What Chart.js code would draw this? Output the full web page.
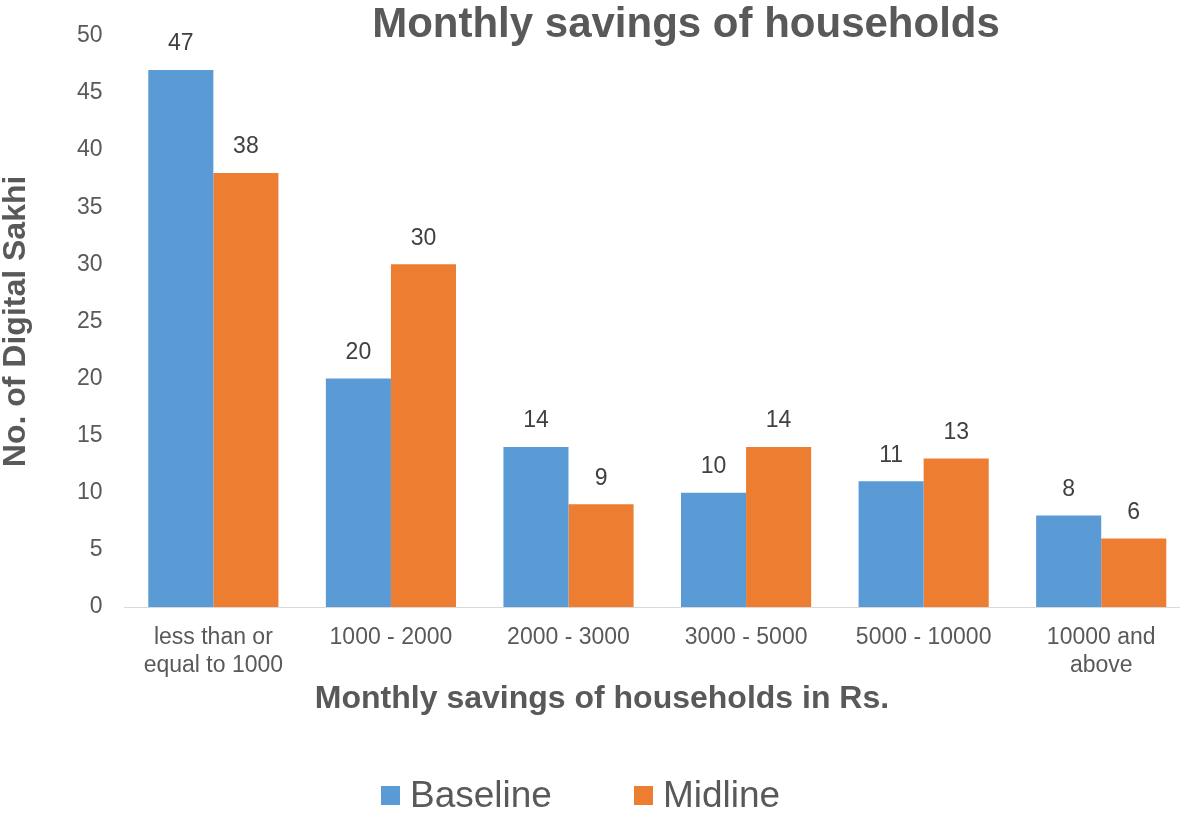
<!DOCTYPE html>
<html>
<head>
<meta charset="utf-8">
<script src="https://cdn.jsdelivr.net/npm/chart.js@4.4.0/dist/chart.umd.min.js"></script>
<style>
  html, body { margin: 0; padding: 0; background: #fff; overflow: hidden; width: 1180px; height: 813px; }
  #wrap { position: absolute; left: 0; top: 0; width: 1190px; height: 813px; }
  #legend { position: absolute; left: 381px; top: 775px; display: flex; align-items: center;
            font: 37px "Liberation Sans", Arial, sans-serif; color: #595959; line-height: 40px; }
  .item { display: flex; align-items: center; margin-right: 82px; }
  .box { width: 19px; height: 19px; margin-right: 10px; }
</style>
</head>
<body>
<div id="wrap"><canvas id="chart" width="1190" height="813"></canvas></div>
<div id="legend"></div>
<script>
const TITLE = "Monthly savings of households";
const X_TITLE = "Monthly savings of households in Rs.";
const Y_TITLE = "No. of Digital Sakhi";
const FONT = '"Liberation Sans", Arial, sans-serif';
const TEXT_GREY = '#595959';

const categories = [
    ['less than or', 'equal to 1000'],
    '1000 - 2000',
    '2000 - 3000',
    '3000 - 5000',
    '5000 - 10000',
    ['10000 and', 'above']
];
const baseline = [47, 20, 14, 10, 11, 8];
const midline  = [38, 30, 9, 14, 13, 6];

const seriesNames  = ['Baseline', 'Midline'];
const seriesColors = ['#5B9BD5', '#ED7D31'];

// value labels above each bar + chart title + x axis title
const textPlugin = {
    id: 'texts',
    afterDatasetsDraw: chart => {
        const ctx = chart.ctx;
        ctx.save();
        ctx.font = `23px ${FONT}`;
        ctx.fillStyle = '#404040';
        ctx.textAlign = 'center';
        ctx.textBaseline = 'middle';
        chart.data.datasets.forEach((ds, i) => {
            chart.getDatasetMeta(i).data.forEach((bar, j) => {
                ctx.fillText(String(ds.data[j]), bar.x, bar.y - 26);
            });
        });

        ctx.fillStyle = TEXT_GREY;
        ctx.textBaseline = 'alphabetic';
        ctx.font = `bold 42px ${FONT}`;
        ctx.fillText(TITLE, 686, 37);

        ctx.font = `bold 32px ${FONT}`;
        ctx.fillText(X_TITLE, 602, chart.chartArea.bottom + 101);
        ctx.restore();
    }
};

const chart = new Chart(document.getElementById('chart').getContext('2d'), {
    type: 'bar',
    data: {
        labels: categories,
        datasets: [
            { label: seriesNames[0], data: baseline, backgroundColor: seriesColors[0] },
            { label: seriesNames[1], data: midline,  backgroundColor: seriesColors[1] }
        ]
    },
    options: {
        responsive: false,
        animation: false,
        layout: { padding: { top: 33, left: 0, right: 0, bottom: 0 } },
        datasets: { bar: { categoryPercentage: 0.733, barPercentage: 1.0 } },
        plugins: {
            legend: { display: false },
            tooltip: { enabled: false }
        },
        scales: {
            x: {
                grid: { display: false, drawTicks: false },
                border: { display: true, color: '#D9D9D9', width: 1 },
                ticks: { color: TEXT_GREY, font: { family: FONT, size: 23 }, padding: 17, maxRotation: 0 },
                afterFit: scale => { scale.height = 206; }
            },
            y: {
                min: 0,
                max: 50,
                grid: { display: false, drawTicks: false },
                border: { display: false },
                ticks: { stepSize: 5, color: TEXT_GREY, font: { family: FONT, size: 23 }, padding: 22 },
                title: {
                    display: true,
                    text: Y_TITLE,
                    color: TEXT_GREY,
                    font: { family: FONT, size: 32, weight: 'bold', lineHeight: 1 },
                    padding: { top: 0, bottom: 23 }
                }
            }
        }
    },
    plugins: [textPlugin]
});

const legend = document.getElementById('legend');
legend.innerHTML = chart.data.datasets.map(ds =>
    `<div class="item"><div class="box" style="background:${ds.backgroundColor}"></div>${ds.label}</div>`
).join('');
</script>
</body>
</html>
